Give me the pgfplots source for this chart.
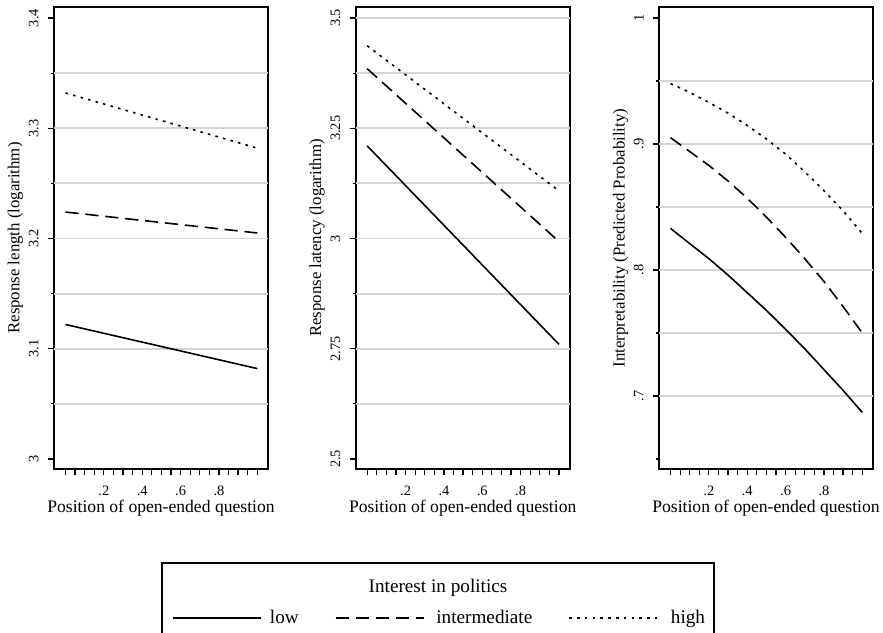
\documentclass[border=0pt]{standalone}
\usepackage{pgfplots}
\pgfplotsset{compat=1.18}
\usepackage{fontspec}
\setmainfont{Liberation Serif}
\definecolor{gridgray}{RGB}{212,212,212}

\pgfplotsset{
  panel/.style={
    scale only axis, width=107pt, height=231pt, anchor=south west,
    xmin=-0.06, xmax=1.056,
    axis line style={line width=0.8pt, black},
    tick align=outside,
    xtick pos=bottom, ytick pos=left,
    xtick={0,0.05,0.1,0.15,0.2,0.25,0.3,0.35,0.4,0.45,0.5,0.55,0.6,0.65,0.7,0.75,0.8,0.85,0.9,0.95,1},
    xticklabels={,,,,.2,,,,.4,,,,.6,,,,.8,,,,},
    major tick length=3pt, minor tick length=1.5pt,
    tick style={black, line width=0.6pt},
    xticklabel style={font=\fontsize{7.2}{8}\selectfont, anchor=base, inner sep=0pt, yshift=-10pt},
    yticklabel style={font=\fontsize{7.2}{8}\selectfont, rotate=90, anchor=south, inner sep=0pt, inner ysep=4.5pt},
    xlabel={Position of open-ended question},
    xlabel style={font=\fontsize{8.8}{10}\selectfont, at={(axis description cs:0.5,-0.0952)}, anchor=base, inner sep=0pt},
    ylabel style={font=\fontsize{8.4}{10}\selectfont, at={(axis description cs:-0.18,0.5)}, anchor=center, inner sep=0pt},
    extra y tick style={grid=major, major tick length=0pt},
    major grid style={gridgray, line width=0.9pt},
    legend image code/.code={\draw[#1] (0pt,0pt) -- (44pt,0pt);},
  },
  lowS/.style={black, line width=0.8pt, solid},
  midS/.style={black, line width=0.8pt, dash pattern=on 6.6pt off 3.4pt},
  highS/.style={black, line width=0.8pt, dash pattern=on 1.3pt off 2.6pt},
}

\begin{document}
\begin{tikzpicture}
\path[use as bounding box] (0,0) rectangle (441.5pt,316pt);

% Panel 1: Response length
\begin{axis}[panel, at={(27pt,81.5pt)},
  ymin=2.9909, ymax=3.4100,
  ytick={3,3.1,3.2,3.3,3.4}, yticklabels={3,3.1,3.2,3.3,3.4},
  minor ytick={3.05,3.15,3.25,3.35},
  extra y ticks={3.05,3.1,3.15,3.2,3.25,3.3,3.35}, extra y tick labels={},
  ylabel={Response length (logarithm)}]
\addplot[lowS] coordinates {(0,3.122) (1,3.082)};
\addplot[midS] coordinates {(0,3.224) (1,3.205)};
\addplot[highS] coordinates {(0,3.332) (1,3.282)};
\end{axis}

% Panel 2: Response latency
\begin{axis}[panel, at={(177.85pt,81.5pt)},
  ymin=2.4773, ymax=3.5249,
  ytick={2.5,2.75,3,3.25,3.5}, yticklabels={2.5,2.75,3,3.25,3.5},
  minor ytick={2.625,2.875,3.125,3.375},
  extra y ticks={2.625,2.75,2.875,3,3.125,3.25,3.375,3.5}, extra y tick labels={},
  ylabel={Response latency (logarithm)},
  legend columns=3,
  legend style={at={(axis description cs:-0.8586,-0.3225)}, anchor=west,
    draw=none, fill=none, inner sep=0pt, column sep=0pt,
    nodes={inner sep=0pt},
    font=\fontsize{9.6}{11}\selectfont,
    /tikz/every odd column/.style={column sep=0pt},
    /tikz/every even column/.style={column sep=0pt}},
  ]
\addplot[lowS] coordinates {(0,3.210) (1,2.760)};
\addlegendentry{\kern4pt low\kern18pt}
\addplot[midS] coordinates {(0,3.385) (1,2.993)};
\addlegendentry{\kern6pt intermediate\kern18pt}
\addplot[highS] coordinates {(0,3.437) (1,3.108)};
\addlegendentry{\kern6.5pt high}
\end{axis}

% Panel 3: Interpretability
\begin{axis}[panel, at={(329.5pt,81.5pt)},
  ymin=0.6421, ymax=1.0087,
  ytick={0.7,0.8,0.9,1}, yticklabels={.7,.8,.9,1},
  minor ytick={0.65,0.75,0.85,0.95},
  extra y ticks={0.7,0.75,0.8,0.85,0.9,0.95}, extra y tick labels={},
  ylabel={Interpretability (Predicted Probability)}]
\addplot[lowS] coordinates {(0,0.833) (0.1,0.821) (0.2,0.809) (0.3,0.796) (0.4,0.782) (0.5,0.768) (0.6,0.753) (0.7,0.7375) (0.8,0.721) (0.9,0.7045) (1,0.687)};
\addplot[midS] coordinates {(0,0.905) (0.1,0.894) (0.2,0.883) (0.3,0.8706) (0.4,0.857) (0.5,0.842) (0.6,0.826) (0.7,0.809) (0.8,0.791) (0.9,0.771) (1,0.750)};
\addplot[highS] coordinates {(0,0.948) (0.1,0.941) (0.2,0.933) (0.3,0.9245) (0.4,0.9147) (0.5,0.904) (0.6,0.892) (0.7,0.878) (0.8,0.863) (0.9,0.847) (1,0.829)};
\end{axis}

% Legend frame and title
\draw[black, line width=0.7pt] (81pt,-4pt) rectangle (357pt,34.5pt);
\node[anchor=base, inner sep=0pt, font=\fontsize{9.6}{11}\selectfont] at (219pt,20pt) {Interest in politics};
\end{tikzpicture}
\end{document}
